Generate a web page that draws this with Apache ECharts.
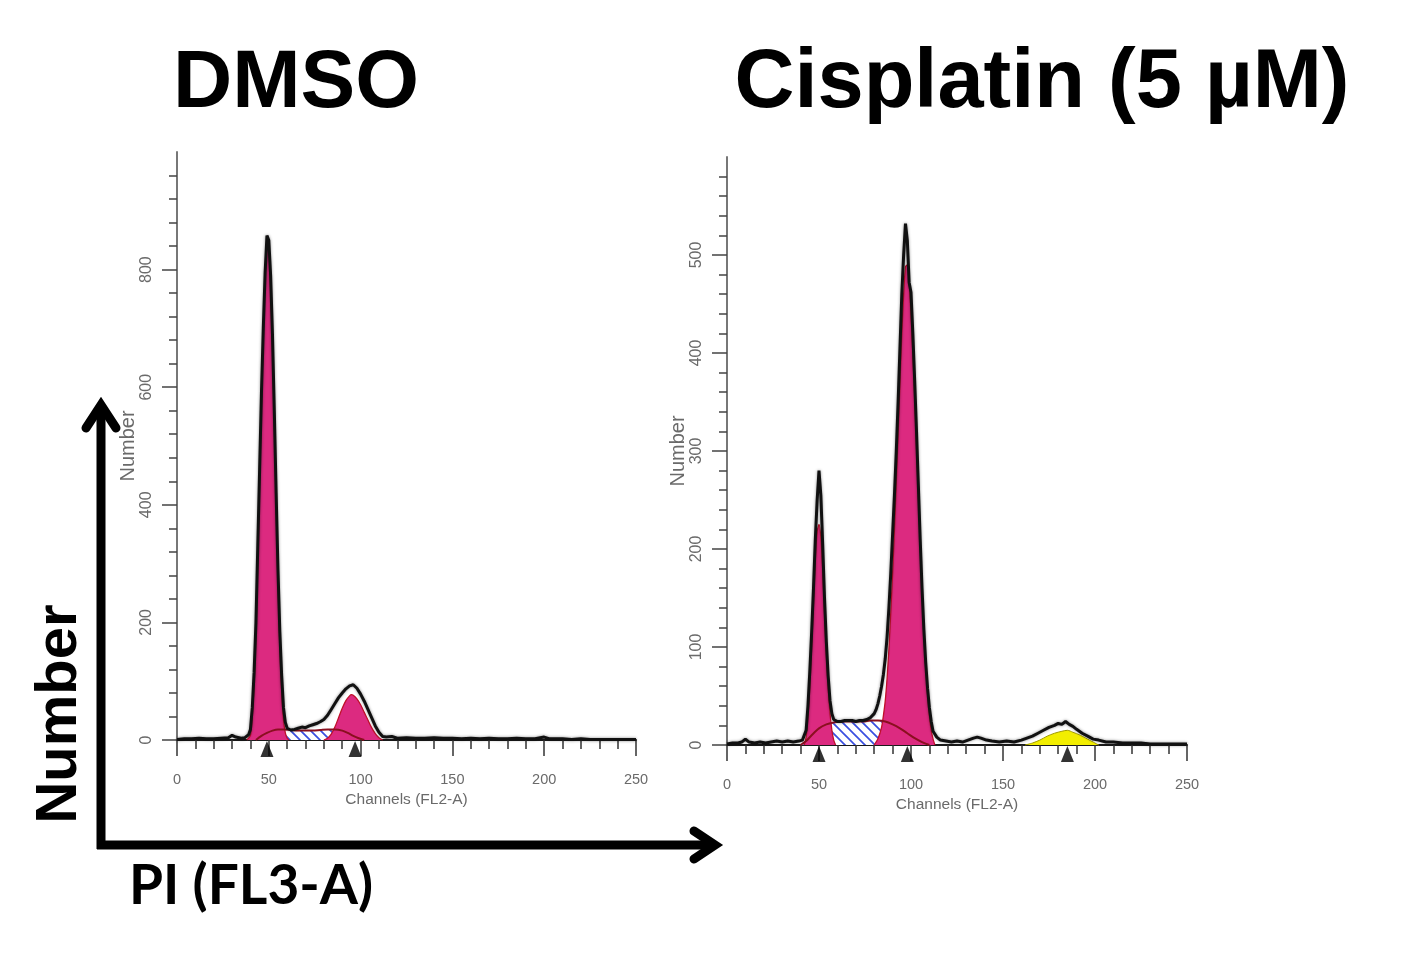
<!DOCTYPE html>
<html>
<head>
<meta charset="utf-8">
<script src="https://cdn.jsdelivr.net/npm/echarts@6/dist/echarts.min.js"></script>
<style>
html,body{margin:0;padding:0;background:#fff;}
#chart{width:1404px;height:962px;}
</style>
</head>
<body>
<div id="chart"></div>
<script>
// ---------------- DATA ----------------
const titles = ['DMSO', 'Cisplatin (5 µM)'];
const xAxisName = 'Channels (FL2-A)';
const yAxisName = 'Number';
const outerYLabel = 'Number';
const outerXLabel = 'PI (FL3-A)';

const xMajorTicks = [0, 50, 100, 150, 200, 250];
const dmsoYMajorTicks = [0, 200, 400, 600, 800];
const cisYMajorTicks = [0, 100, 200, 300, 400, 500];

// DMSO raw histogram
const dmsoHistCh = [0,4,8,12,16,20,24,28,30,32,35,37,38,39,40,41,42,43,44,45,46,47,48,49,50,51,52,53,54,55,56,57,58,59,60,62,64,66,68,70,72,74,76,78,80,82,84,86,88,90,92,94,96,98,100,102,104,106,108,110,112,114,117,120,125,130,135,140,145,150,155,160,165,170,175,180,185,190,195,200,203,206,210,215,220,225,230,235,240,245,250];
const dmsoHist = [1,2,2,3,2,2,3,4,8,5,3,4,5,9,18,55,115,200,330,460,590,700,795,858,850,790,690,560,420,290,185,110,55,30,20,17,18,20,22,21,24,26,28,31,35,42,52,62,72,80,87,92,94,88,78,66,52,38,24,13,6,5,6,3,4,3,3,4,3,3,2,3,2,3,2,2,3,2,2,5,2,2,2,1,2,1,1,1,1,1,1];
// DMSO fitted components
const dmsoG1Ch = [38,40,41,42,43,44,45,46,47,48,49,50,51,52,53,54,55,56,57,58,59,60,61];
const dmsoG1 = [0,8,40,95,180,310,440,570,690,790,840,835,770,670,540,400,270,160,85,35,12,3,0];
const dmsoG2Ch = [80,82,84,86,88,90,92,94,95,96,98,100,102,104,106,108,110,112];
const dmsoG2 = [0,3,10,22,38,54,67,75,77,76,70,60,47,34,21,11,4,0];
const dmsoSCh = [43,46,49,52,55,58,62,66,70,74,78,82,86,90,93,96,99,102];
const dmsoS = [0,7,12,16,18,18,17,16,16,16,17,18,18,16,12,7,3,0];
const dmsoMarkers = [49, 97];

// Cisplatin raw histogram
const cisHistCh = [0,3,6,8,10,12,15,18,21,24,27,30,33,36,39,41,42,43,44,45,46,47,48,49,50,51,52,53,54,55,56,57,58,60,62,64,66,68,70,72,74,76,78,80,81,82,83,84,85,86,87,88,89,90,91,92,93,94,95,96,97,98,99,100,101,102,103,104,105,106,107,108,109,110,111,112,114,116,119,122,125,128,131,134,136,138,141,144,148,152,156,160,163,166,169,172,175,178,180,182,184,186,188,190,193,196,199,202,206,210,215,220,225,230,235,240,245,250];
const cisHist = [1,2,2,3,6,3,2,3,2,3,4,3,4,3,4,5,7,15,40,75,115,160,210,250,280,255,205,150,105,70,45,32,26,24,24,25,25,25,24,25,25,26,28,32,36,42,50,60,72,88,110,140,175,215,255,300,350,405,460,500,532,515,472,462,420,372,320,265,210,160,118,84,58,38,24,14,8,5,4,3,4,3,5,7,8,7,5,4,3,4,3,5,7,9,12,15,18,20,22,21,24,21,19,16,12,9,6,5,3,3,2,2,2,1,1,1,1,1];
// Cisplatin fitted components
const cisG1Ch = [42,43,44,45,46,47,48,49,50,51,52,53,54,55,56,57,58,59];
const cisG1 = [0,8,30,60,100,145,190,218,225,212,180,135,92,58,32,15,5,0];
const cisG2Ch = [80,82,84,85,86,87,88,89,90,91,92,93,94,95,96,97,98,99,100,101,102,103,104,105,106,107,108,109,110,111,112,113];
const cisG2 = [0,6,18,30,45,68,98,135,175,220,268,318,370,420,460,488,490,472,440,400,355,305,255,205,158,115,80,52,30,15,6,0];
const cisSCh = [40,43,46,50,54,58,62,66,70,74,78,82,86,90,94,98,102,106,110];
const cisS = [0,4,10,17,21,23,24,24,24,24,25,25,24,21,17,12,7,3,0];
const cisG3Ch = [162,166,170,174,178,182,185,188,192,196,199,202];
const cisG3 = [0,2,5,9,12,14,15,13,10,6,3,0];
const cisMarkers = [50, 98, 185];

// ---------------- HELPERS ----------------
function zip(a, b) { return a.map((v, i) => [v, b[i]]); }
function range(step, maxv) { const r = []; for (let v = 0; v <= maxv; v += step) r.push(v); return r; }

function hatch(color, bg) {
  const c = document.createElement('canvas');
  c.width = 10; c.height = 10;
  const g = c.getContext('2d');
  if (bg) { g.fillStyle = bg; g.fillRect(0, 0, 10, 10); }
  g.strokeStyle = color; g.lineWidth = 1.7;
  g.beginPath();
  g.moveTo(-2, -2); g.lineTo(12, 12);
  g.moveTo(-2, 8); g.lineTo(2, 12);
  g.moveTo(8, -2); g.lineTo(12, 2);
  g.stroke();
  return c;
}
const hatchBlue = hatch('#3a4fe0', '#ffffff');

const PINK = '#DC2A80';
const PINK_EDGE = '#C0102A';
const S_LINE = '#8a0f1f';
const LABEL_FONT = "'Liberation Sans', Arial, sans-serif";
const LABEL_COLOR = '#6a6a6a';

function xAxes(grid) {
  return [
    { type: 'value', gridIndex: grid, position: 'bottom', min: 0, max: 250,
      axisLine: { show: true, onZero: false, lineStyle: { color: '#1a1a1a', width: 2 } },
      axisTick: { show: true, length: 16, customValues: xMajorTicks, lineStyle: { color: '#333', width: 1.5 } },
      axisLabel: { customValues: xMajorTicks, margin: 32, fontSize: 14.5, color: LABEL_COLOR, fontFamily: LABEL_FONT },
      splitLine: { show: false },
      name: xAxisName, nameLocation: 'middle', nameGap: 52,
      nameTextStyle: { fontSize: 15.5, color: LABEL_COLOR, fontFamily: LABEL_FONT } },
    { type: 'value', gridIndex: grid, position: 'bottom', min: 0, max: 250,
      axisLine: { show: false, onZero: false },
      axisTick: { show: true, length: 9, customValues: range(10, 250), lineStyle: { color: '#333', width: 1.5 } },
      axisLabel: { show: false }, splitLine: { show: false } }
  ];
}
function yAxes(grid, maxv, majors, minorStep, minorMax) {
  return [
    { type: 'value', gridIndex: grid, position: 'left', min: 0, max: maxv,
      axisLine: { show: true, onZero: false, lineStyle: { color: '#777', width: 2 } },
      axisTick: { show: true, length: 15, customValues: majors, lineStyle: { color: '#444', width: 1.5 } },
      axisLabel: { customValues: majors, rotate: 90, margin: 22, fontSize: 16, color: LABEL_COLOR, fontFamily: LABEL_FONT },
      splitLine: { show: false },
      name: yAxisName, nameLocation: 'middle', nameRotate: 90, nameGap: 36,
      nameTextStyle: { fontSize: 20, color: LABEL_COLOR, fontFamily: LABEL_FONT } },
    { type: 'value', gridIndex: grid, position: 'left', min: 0, max: maxv,
      axisLine: { show: false, onZero: false },
      axisTick: { show: true, length: 8, customValues: range(minorStep, minorMax), lineStyle: { color: '#444', width: 1.5 } },
      axisLabel: { show: false }, splitLine: { show: false } }
  ];
}

function areaSeries(xi, yi, data, fill, edge, edgeW, z, smooth) {
  return { type: 'line', xAxisIndex: xi, yAxisIndex: yi, data: data, symbol: 'none', smooth: smooth, clip: false,
    lineStyle: { color: edge, width: edgeW }, areaStyle: { color: fill, opacity: 1 }, z: z, silent: true };
}
function lineSeries(xi, yi, data, color, w, z, smooth, shadow) {
  const ls = { color: color, width: w };
  if (shadow) { ls.shadowColor = 'rgba(0,0,0,0.45)'; ls.shadowBlur = 3; }
  return { type: 'line', xAxisIndex: xi, yAxisIndex: yi, data: data, symbol: 'none', smooth: smooth, clip: false,
    lineStyle: ls, z: z, silent: true };
}
function markerSeries(xi, yi, chans) {
  return { type: 'scatter', xAxisIndex: xi, yAxisIndex: yi, data: chans.map(c => [c, 0]), symbol: 'triangle',
    symbolSize: [13, 16], symbolOffset: [0, 9], clip: false, itemStyle: { color: '#000' }, z: 10, silent: true };
}

const series = [
  // DMSO (axes 0)
  areaSeries(0, 0, zip(dmsoSCh, dmsoS), { image: hatchBlue, repeat: 'repeat' }, S_LINE, 0, 1, 0.3),
  areaSeries(0, 0, zip(dmsoG1Ch, dmsoG1), PINK, PINK_EDGE, 1.3, 2, 0.2),
  areaSeries(0, 0, zip(dmsoG2Ch, dmsoG2), PINK, PINK_EDGE, 1.3, 2, 0.3),
  lineSeries(0, 0, zip(dmsoSCh, dmsoS), S_LINE, 2, 4, 0.3, false),
  lineSeries(0, 0, zip(dmsoHistCh, dmsoHist), '#111', 3, 5, false, true),
  markerSeries(0, 0, dmsoMarkers),
  // Cisplatin (axes 2)
  areaSeries(2, 2, zip(cisSCh, cisS), { image: hatchBlue, repeat: 'repeat' }, S_LINE, 0, 1, 0.3),
  areaSeries(2, 2, zip(cisG1Ch, cisG1), PINK, PINK_EDGE, 1.3, 2, 0.2),
  areaSeries(2, 2, zip(cisG2Ch, cisG2), PINK, PINK_EDGE, 1.3, 2, 0.2),
  areaSeries(2, 2, zip(cisG3Ch, cisG3), '#F2EE00', '#a09a00', 1, 2, 0.3),
  lineSeries(2, 2, zip(cisSCh, cisS), S_LINE, 2, 4, 0.3, false),
  lineSeries(2, 2, zip(cisHistCh, cisHist), '#111', 3, 5, false, true),
  markerSeries(2, 2, cisMarkers)
];

const option = {
  backgroundColor: '#ffffff',
  animation: false,
  grid: [
    { left: 177, top: 152, width: 459, height: 588 },
    { left: 727, top: 157, width: 460, height: 588 }
  ],
  xAxis: [...xAxes(0), ...xAxes(1)],
  yAxis: [...yAxes(0, 1000, dmsoYMajorTicks, 40, 960), ...yAxes(1, 600, cisYMajorTicks, 20, 580)],
  series: series,
  graphic: [
    { type: 'text', x: 296, y: 84, style: { text: titles[0], font: 'bold 82px "Liberation Sans", Arial, sans-serif', fill: '#000', align: 'center', verticalAlign: 'middle' } },
    { type: 'text', x: 1042, y: 84, style: { text: titles[1], font: 'bold 83px "Liberation Sans", Arial, sans-serif', fill: '#000', align: 'center', verticalAlign: 'middle' } },
    { type: 'text', x: 60, y: 714, rotation: Math.PI / 2, style: { text: outerYLabel, font: 'bold 58px "Liberation Sans", Arial, sans-serif', fill: '#000', align: 'center', verticalAlign: 'middle' } },
    { type: 'text', x: 251, y: 886, style: { text: outerXLabel, font: 'bold 55px Lato, "Open Sans", sans-serif', fill: '#000', align: 'center', verticalAlign: 'middle' } },
    // arrows
    { type: 'polyline', shape: { points: [[101, 849], [101, 408]] }, style: { stroke: '#000', lineWidth: 9, fill: null, lineCap: 'butt' } },
    { type: 'polyline', shape: { points: [[97, 845], [714, 845]] }, style: { stroke: '#000', lineWidth: 9, fill: null, lineCap: 'butt' } },
    { type: 'polyline', shape: { points: [[86, 428], [101, 405], [116, 428]] }, style: { stroke: '#000', lineWidth: 9, fill: null, lineCap: 'round', lineJoin: 'miter', miterLimit: 10 } },
    { type: 'polyline', shape: { points: [[694, 831], [715, 845], [694, 859]] }, style: { stroke: '#000', lineWidth: 9, fill: null, lineCap: 'round', lineJoin: 'miter', miterLimit: 10 } }
  ]
};

const chart = echarts.init(document.getElementById('chart'), null, { renderer: 'canvas' });
chart.setOption(option);
</script>
</body>
</html>
